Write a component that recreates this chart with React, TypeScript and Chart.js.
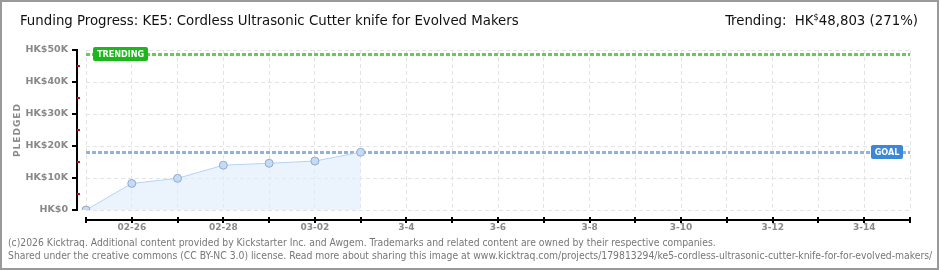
import React, { useEffect, useRef } from "react";
import { Chart, registerables } from "chart.js";

Chart.register(...registerables);

const DAYS = [
  "02-25", "02-26", "02-27", "02-28", "03-01", "03-02", "03-03", "03-04", "03-05", "03-06",
  "03-07", "03-08", "03-09", "03-10", "03-11", "03-12", "03-13", "03-14", "03-15",
];
const TICK_LABELS = [
  "", "02-26", "", "02-28", "", "03-02", "", "3-4", "", "3-6",
  "", "3-8", "", "3-10", "", "3-12", "", "3-14", "",
];
const PLEDGED = [0, 8300, 9900, 14000, 14600, 15300, 18050];
const GOAL = 18000;
const TRENDING = 48803;
const Y_MAX = 50000;
const Y_STEP = 10000;

const TITLE = "Funding Progress: KE5: Cordless Ultrasonic Cutter knife for Evolved Makers";
const FOOT1 =
  "(c)2026 Kicktraq. Additional content provided by Kickstarter Inc. and Awgem. Trademarks and related content are owned by their respective companies.";
const FOOT2 =
  "Shared under the creative commons (CC BY-NC 3.0) license. Read more about sharing this image at www.kicktraq.com/projects/179813294/ke5-cordless-ultrasonic-cutter-knife-for-for-evolved-makers/";

function labelBox(ctx: CanvasRenderingContext2D, text: string, x: number, yc: number, w: number, color: string) {
  const h = 14;
  ctx.save();
  ctx.fillStyle = color;
  ctx.beginPath();
  (ctx as any).roundRect(x, Math.round(yc - h / 2), w, h, 2);
  ctx.fill();
  ctx.fillStyle = "#ffffff";
  ctx.font = "bold 9px 'DejaVu Sans Condensed', sans-serif";
  ctx.textAlign = "center";
  ctx.textBaseline = "middle";
  ctx.fillText(text, x + w / 2, Math.round(yc) + 0.5);
  ctx.restore();
}

const overlay = {
  id: "overlay",
  beforeDatasetsDraw(chart: any) {
    const { ctx, chartArea, scales } = chart;
    const y = scales.y;
    ctx.save();
    ctx.lineWidth = 3;
    ctx.setLineDash([4, 2]);
    const yt = Math.round(y.getPixelForValue(TRENDING)) + 0.5;
    ctx.strokeStyle = "#62cf52";
    ctx.beginPath();
    ctx.moveTo(chartArea.left, yt);
    ctx.lineTo(chartArea.right, yt);
    ctx.stroke();
    const yg = Math.round(y.getPixelForValue(GOAL)) + 0.5;
    ctx.strokeStyle = "#8fb2df";
    ctx.beginPath();
    ctx.moveTo(chartArea.left, yg);
    ctx.lineTo(chartArea.right, yg);
    ctx.stroke();
    ctx.restore();
  },
  afterDraw(chart: any) {
    const { ctx, chartArea, scales } = chart;
    const x = scales.x;
    const y = scales.y;
    ctx.save();
    // y axis
    const ax = chartArea.left - 9;
    ctx.strokeStyle = "#000";
    ctx.lineWidth = 2;
    ctx.beginPath();
    ctx.moveTo(ax, y.getPixelForValue(Y_MAX));
    ctx.lineTo(ax, y.getPixelForValue(0) + 1);
    ctx.stroke();
    for (let v = 0; v <= Y_MAX; v += Y_STEP / 2) {
      const py = Math.round(y.getPixelForValue(v));
      if (v % Y_STEP === 0) {
        ctx.fillStyle = "#000";
        ctx.fillRect(ax - 5, py - 1, 6, 2);
      } else {
        ctx.fillStyle = "#e00000";
        ctx.fillRect(ax, py - 1, 3, 2);
      }
    }
    // x axis
    const ay = chartArea.bottom + 10;
    ctx.fillStyle = "#000";
    ctx.fillRect(chartArea.left, ay - 1, chartArea.right - chartArea.left + 1, 2);
    for (let i = 0; i < DAYS.length; i++) {
      const px = Math.round(x.getPixelForValue(i));
      ctx.fillRect(px - 1, ay - 3, 2, 6);
    }
    // labels
    labelBox(ctx, "TRENDING", chartArea.left + 7, y.getPixelForValue(TRENDING), 55, "#1db61d");
    labelBox(ctx, "GOAL", chartArea.right - 39, y.getPixelForValue(GOAL), 32, "#3b87d8");
    ctx.restore();
  },
};

export default function App() {
  const ref = useRef<HTMLCanvasElement | null>(null);
  useEffect(() => {
    if (!ref.current) return;
    const chart = new Chart(ref.current, {
      type: "line",
      data: {
        labels: DAYS,
        datasets: [
          {
            data: PLEDGED,
            borderColor: "#b6d3f3",
            borderWidth: 1,
            backgroundColor: "rgba(225,237,252,0.65)",
            fill: "origin",
            tension: 0,
            pointRadius: 4,
            pointBackgroundColor: "#c3dbf7",
            pointBorderColor: "#93abc9",
            pointBorderWidth: 1,
          },
        ],
      },
      options: {
        responsive: false,
        animation: false,
        events: [],
        layout: { padding: { top: 50, right: 30, left: 0, bottom: 0 } },
        plugins: { legend: { display: false }, tooltip: { enabled: false } },
        scales: {
          x: {
            type: "category",
            offset: false,
            afterFit: (s: any) => {
              s.height = 60;
            },
            grid: { color: "#e3e3e3", drawTicks: false, lineWidth: 1 },
            border: { display: false, dash: [4, 3] },
            ticks: {
              autoSkip: false,
              maxRotation: 0,
              padding: 12,
              color: "#8a8a8a",
              font: { family: "DejaVu Sans", size: 9, weight: "bold" },
              callback: (_v: any, i: number) => TICK_LABELS[i],
            },
          },
          y: {
            min: 0,
            max: Y_MAX,
            afterFit: (s: any) => {
              s.width = 86;
            },
            grid: { color: "#e3e3e3", drawTicks: false, lineWidth: 1 },
            border: { display: false, dash: [4, 3] },
            ticks: {
              stepSize: Y_STEP,
              padding: 18,
              color: "#888888",
              font: { family: "DejaVu Sans", size: 9.5, weight: "bold" },
              callback: (v: any) => (v === 0 ? "HK$0" : "HK$" + v / 1000 + "K"),
            },
          },
        },
      },
      plugins: [overlay],
    });
    return () => chart.destroy();
  }, []);

  return (
    <div
      style={{
        position: "fixed",
        left: 0,
        top: 0,
        width: 940,
        height: 270,
        background: "#fff",
        overflow: "hidden",
      }}
    >
      <canvas ref={ref} width={940} height={270} style={{ position: "absolute", left: 0, top: 0 }} />
      <div
        style={{
          position: "absolute",
          left: 20,
          top: 11,
          font: "14.8px 'DejaVu Sans Condensed', sans-serif",
          color: "#111",
          whiteSpace: "nowrap",
        }}
      >
        {TITLE}
      </div>
      <div
        style={{
          position: "absolute",
          right: 22,
          top: 11,
          font: "14.8px 'DejaVu Sans Condensed', sans-serif",
          color: "#111",
          whiteSpace: "nowrap",
        }}
      >
        Trending:&nbsp; HK<sup style={{ fontSize: 9, verticalAlign: 5 }}>$</sup>48,803 (271%)
      </div>
      <div
        style={{
          position: "absolute",
          left: 17,
          top: 130,
          transform: "translate(-50%, -50%) rotate(-90deg)",
          font: "bold 9px 'DejaVu Sans', sans-serif",
          letterSpacing: 1,
          color: "#8a8a8a",
          whiteSpace: "nowrap",
        }}
      >
        PLEDGED
      </div>
      <div
        style={{
          position: "absolute",
          left: 8,
          top: 236,
          font: "10.3px 'DejaVu Sans Condensed', sans-serif",
          color: "#777",
          whiteSpace: "nowrap",
          lineHeight: "13px",
        }}
      >
        <div>{FOOT1}</div>
        <div>{FOOT2}</div>
      </div>
      <div
        style={{
          position: "absolute",
          left: 0,
          top: 0,
          width: 939,
          height: 270,
          boxSizing: "border-box",
          border: "2px solid #9a9a9a",
          pointerEvents: "none",
        }}
      />
    </div>
  );
}
